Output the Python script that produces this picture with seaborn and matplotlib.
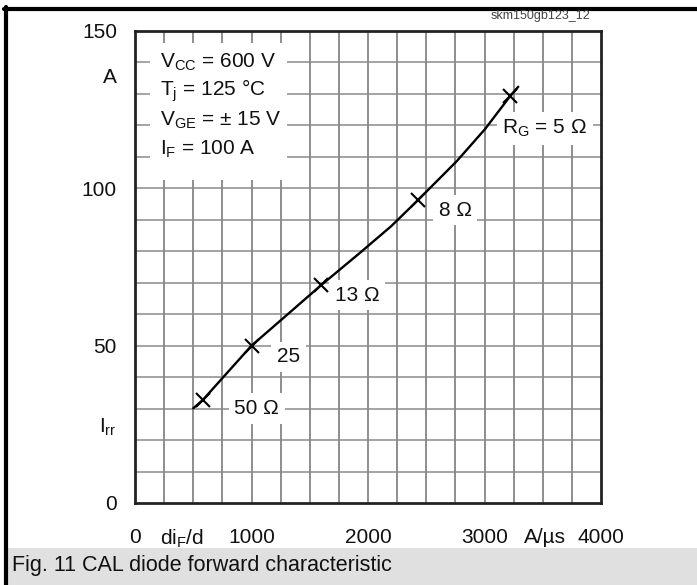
import matplotlib
matplotlib.use("Agg")
import matplotlib.pyplot as plt
import pandas as pd
import seaborn as sns
from matplotlib.patches import Rectangle
from matplotlib.lines import Line2D

# curve (diF/dt in A/us, Irr in A)
curve_x = [500, 581, 787, 1000, 1302, 1600, 1931, 2200, 2430, 2761, 3004, 3220, 3290]
curve_y = [30.1, 32.7, 41.2, 50.0, 59.7, 69.3, 79.5, 88.0, 96.3, 108.6, 118.8, 129.3, 132.3]

# gate resistor points marked with crosses
rg_x = [581, 1000, 1600, 2430, 3220]
rg_y = [32.7, 50.0, 69.3, 96.3, 129.3]
rg_labels = ["50 Ω", "25", "13 Ω", "8 Ω", "R$_G$ = 5 Ω"]
rg_label_x = [1045, 1316, 1906, 2747, 3519]
rg_label_y = [30.0, 46.5, 66.0, 93.0, 119.0]

conditions = ["V$_{CC}$ = 600 V", "T$_j$ = 125 °C", "V$_{GE}$ = ± 15 V", "I$_F$ = 100 A"]
cond_y = [140, 131, 121.5, 112.5]

xtick_pos = [0, 400, 1000, 2000, 3000, 3520, 4000]
xtick_lab = ["0", "di$_F$/d", "1000", "2000", "3000", "A/µs", "4000"]
ytick_pos = [0, 25, 50, 100, 136, 150]
ytick_lab = ["0", "I$_{rr}$", "50", "100", "A", "150"]

sns.set_theme(style="white")
plt.rcParams["font.family"] = ["Liberation Sans", "DejaVu Sans"]
plt.rcParams["mathtext.fontset"] = "custom"
plt.rcParams["mathtext.rm"] = "Liberation Sans"
plt.rcParams["mathtext.it"] = "Liberation Sans"
plt.rcParams["mathtext.default"] = "regular"

df = pd.DataFrame({"x": curve_x, "y": curve_y})
df_rg = pd.DataFrame({"x": rg_x, "y": rg_y})

fig = plt.figure(figsize=(6.97, 5.85), dpi=100)
ax = fig.add_axes([135 / 697, 82 / 585, 466 / 697, 472 / 585])

sns.lineplot(data=df, x="x", y="y", sort=False, color="black", linewidth=1.7, ax=ax, zorder=4)
ax.plot(df_rg["x"], df_rg["y"], linestyle="none", marker="x", markersize=10,
        markeredgewidth=1.5, color="black", zorder=5)

ax.set_xlim(0, 4000)
ax.set_ylim(0, 150)

# grid
for gx in range(250, 4000, 250):
    ax.axvline(gx, color="#707070", linewidth=1.1, zorder=1)
for gy in range(10, 150, 10):
    ax.axhline(gy, color="#8a8a8a", linewidth=1.1, zorder=1)

# white box behind condition block
ax.add_patch(Rectangle((129, 102.6), 1176, 43.6, facecolor="white", edgecolor="none", zorder=2))
for txt, ty in zip(conditions, cond_y):
    ax.text(215, ty, txt, fontsize=15, ha="left", va="center", color="#111111", zorder=3)

for txt, tx, ty in zip(rg_labels, rg_label_x, rg_label_y):
    ax.text(tx, ty, txt, fontsize=15, ha="center", va="center", color="#111111", zorder=3,
            bbox=dict(facecolor="white", edgecolor="none", pad=4))

ax.set_xticks(xtick_pos)
ax.set_xticklabels(xtick_lab)
ax.set_yticks(ytick_pos)
ax.set_yticklabels(ytick_lab)
ax.tick_params(axis="x", length=0, pad=18, labelsize=15, labelcolor="#111111")
ax.tick_params(axis="y", length=0, pad=13, labelsize=15, labelcolor="#111111")
ax.set_xlabel("")
ax.set_ylabel("")
for s in ax.spines.values():
    s.set_color("#222222")
    s.set_linewidth(2.0)
    s.set_visible(True)

# frame and caption
fig.add_artist(Line2D([4 / 697, 1], [1 - 8.5 / 585] * 2, color="black", linewidth=3))
fig.add_artist(Line2D([5.5 / 697] * 2, [0, 1 - 7 / 585], color="black", linewidth=3))
fig.patches.append(Rectangle((7 / 697, 0), 1, 37 / 585, transform=fig.transFigure,
                             facecolor="#e0e0e0", edgecolor="none", zorder=0))
fig.text(12 / 697, 1 - 565 / 585, "Fig. 11 CAL diode forward characteristic",
         fontsize=15.5, ha="left", va="center", color="#111111")
fig.text(541 / 697, 1 - 16 / 585, "skm150gb123_12", fontsize=9, ha="center", va="center",
         color="#444444")

fig.savefig("out.png", dpi=100)
